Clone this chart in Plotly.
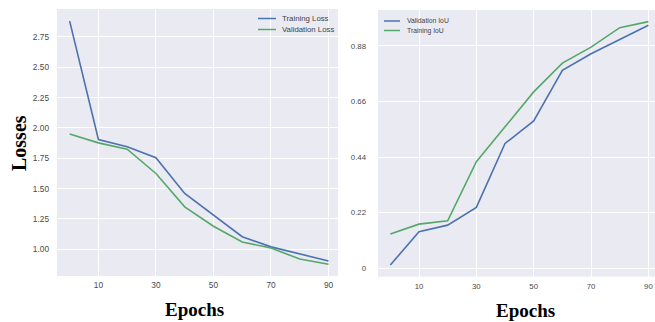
import plotly.graph_objects as go

epochs = [0, 10, 20, 30, 40, 50, 60, 70, 80, 90]
training_loss = [2.88, 1.905, 1.845, 1.754, 1.46, 1.28, 1.104, 1.02, 0.96, 0.904]
validation_loss = [1.95, 1.877, 1.825, 1.625, 1.35, 1.19, 1.06, 1.01, 0.92, 0.877]
validation_iou = [0.013, 0.145, 0.171, 0.241, 0.494, 0.583, 0.783, 0.849, 0.905, 0.962]
training_iou = [0.136, 0.175, 0.188, 0.422, 0.56, 0.698, 0.812, 0.875, 0.952, 0.976]

x_ticks = [10, 30, 50, 70, 90]
loss_ticks = [1.00, 1.25, 1.50, 1.75, 2.00, 2.25, 2.50, 2.75]
loss_tick_labels = ["1.00", "1.25", "1.50", "1.75", "2.00", "2.25", "2.50", "2.75"]
iou_ticks = [0, 0.22, 0.44, 0.66, 0.88]
iou_tick_labels = ["0", "0.22", "0.44", "0.66", "0.88"]

BLUE = "#4C72B0"
GREEN = "#55A868"
BG = "#EAEAF2"

fig = go.Figure()
fig.add_trace(go.Scatter(x=epochs, y=training_loss, mode="lines", name="Training Loss",
                         line=dict(color=BLUE, width=1.6), xaxis="x", yaxis="y", showlegend=False))
fig.add_trace(go.Scatter(x=epochs, y=validation_loss, mode="lines", name="Validation Loss",
                         line=dict(color=GREEN, width=1.6), xaxis="x", yaxis="y", showlegend=False))
fig.add_trace(go.Scatter(x=epochs, y=validation_iou, mode="lines", name="Validation IoU",
                         line=dict(color=BLUE, width=1.6), xaxis="x2", yaxis="y2", showlegend=False))
fig.add_trace(go.Scatter(x=epochs, y=training_iou, mode="lines", name="Training IoU",
                         line=dict(color=GREEN, width=1.6), xaxis="x2", yaxis="y2", showlegend=False))

tickfont = dict(family="Liberation Sans, Arial, sans-serif", size=8.3, color="#4a4a4a")
tickfont2 = dict(family="Liberation Sans, Arial, sans-serif", size=7.8, color="#4a4a4a")
title_font = dict(family="Liberation Serif, Times New Roman, serif", size=20, color="black")

W, H = 655, 322
def px(x): return x / W
def py(y): return 1 - y / H

axis_common = dict(showgrid=True, gridcolor="white", gridwidth=1, zeroline=False,
                   showline=False, ticks="")

fig.update_layout(
    width=W, height=H,
    margin=dict(l=0, r=0, t=0, b=0),
    paper_bgcolor="white",
    plot_bgcolor=BG,
    hovermode=False,
    xaxis=dict(domain=[px(57), px(338)], range=[-4.4, 93.3], tickvals=x_ticks,
               tickfont=tickfont, anchor="y", ticklabelstandoff=3, **axis_common),
    yaxis=dict(domain=[py(276), py(9)], range=[0.78, 2.98], tickvals=loss_ticks,
               ticktext=loss_tick_labels, tickfont=tickfont, anchor="x",
               ticklabelstandoff=7, **axis_common),
    xaxis2=dict(domain=[px(378), 1.0], range=[-4.3, 92.3], tickvals=x_ticks,
                tickfont=tickfont2, anchor="y2", ticklabelstandoff=3, **axis_common),
    yaxis2=dict(domain=[py(276.7), py(10)], range=[-0.033, 1.022], tickvals=iou_ticks,
                ticktext=iou_tick_labels, tickfont=tickfont2, anchor="x2",
                ticklabelstandoff=11, **axis_common),
)

annotations = [
    dict(text="<b>Losses</b>", x=px(19), y=py(143), xref="paper", yref="paper",
         textangle=-90, showarrow=False, font=title_font, xanchor="center", yanchor="middle"),
    dict(text="<b>Epochs</b>", x=px(194), y=py(309), xref="paper", yref="paper",
         showarrow=False, font=dict(title_font, size=19), xanchor="center", yanchor="middle"),
    dict(text="<b>Epochs</b>", x=px(525), y=py(310), xref="paper", yref="paper",
         showarrow=False, font=dict(title_font, size=19), xanchor="center", yanchor="middle"),
]

legend_left = [("Training Loss", BLUE, 18.5), ("Validation Loss", GREEN, 29.5)]
legend_right = [("Validation IoU", BLUE, 21), ("Training IoU", GREEN, 30.5)]
shapes = []
for name, color, yy in legend_left:
    shapes.append(dict(type="line", xref="paper", yref="paper", x0=px(258), x1=px(276),
                       y0=py(yy), y1=py(yy), line=dict(color=color, width=1.5)))
    annotations.append(dict(text=name, x=px(280), y=py(yy), xref="paper", yref="paper",
                            showarrow=False, xanchor="left", yanchor="middle",
                            font=dict(family="Liberation Sans, Arial, sans-serif", size=7.8, color="#444444")))
for name, color, yy in legend_right:
    shapes.append(dict(type="line", xref="paper", yref="paper", x0=px(384), x1=px(400),
                       y0=py(yy), y1=py(yy), line=dict(color=color, width=1.5)))
    annotations.append(dict(text=name, x=px(405), y=py(yy), xref="paper", yref="paper",
                            showarrow=False, xanchor="left", yanchor="middle",
                            font=dict(family="Liberation Sans, Arial, sans-serif", size=6.8, color="#444444")))

fig.update_layout(annotations=annotations, shapes=shapes)
fig.write_html("out.html", config={"displayModeBar": False},
               post_script="document.body.style.margin='0';document.body.style.overflow='hidden';")
